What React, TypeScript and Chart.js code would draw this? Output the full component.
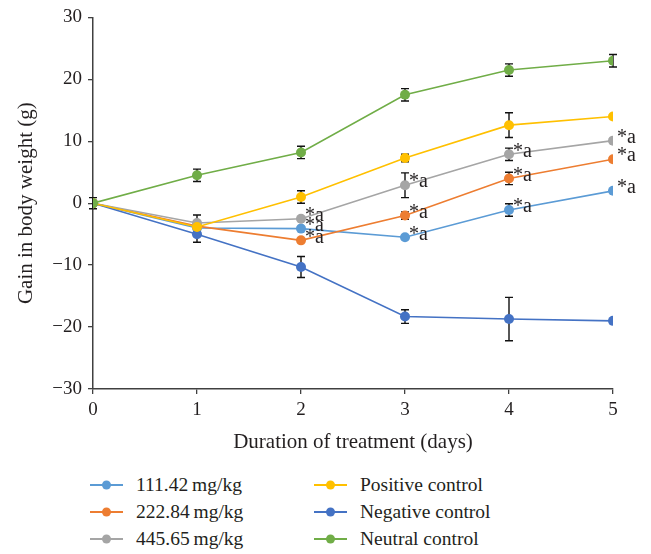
import React, { useEffect, useRef } from 'react';
import { Chart, registerables } from 'chart.js';

Chart.register(...registerables);

// ---- data ----
const days = [0, 1, 2, 3, 4, 5];
const xTickValues = [0, 1, 2, 3, 4, 5];
const yTickValues = [-30, -20, -10, 0, 10, 20, 30];

const seriesNames = [
  '111.42\u2009mg/kg',
  '222.84\u2009mg/kg',
  '445.65\u2009mg/kg',
  'Positive control',
  'Negative control',
  'Neutral control',
];
const seriesColors = ['#5B9BD5', '#ED7D31', '#A5A5A5', '#FFC000', '#4472C4', '#70AD47'];

const dose111 = [0, -4.0, -4.1, -5.5, -1.1, 2.0];
const dose222 = [0, -3.7, -6.0, -2.0, 4.0, 7.1];
const dose445 = [0, -3.2, -2.5, 2.9, 7.9, 10.1];
const positiveCtrl = [0, -3.85, 1.0, 7.3, 12.6, 14.0];
const negativeCtrl = [0, -5.0, -10.3, -18.3, -18.7, -19.0];
const neutralCtrl = [0, 4.5, 8.2, 17.5, 21.5, 23.0];

const err111 = [0, 0, 0, 0, 1.0, 0];
const err222 = [0, 0, 0, 0.6, 1.0, 0];
const err445 = [0, 1.3, 0, 2.0, 1.0, 0];
const errPositive = [0, 0, 1.0, 0.6, 2.0, 0];
const errNegative = [0, 1.3, 1.7, 1.1, 3.5, 0];
const errNeutral = [0.9, 1.0, 1.0, 1.0, 1.0, 1.0];

const mark111 = ['', '', '*a', '*a', '*a', '*a'];
const mark222 = ['', '', '*a', '*a', '*a', '*a'];
const mark445 = ['', '', '*a', '*a', '*a', '*a'];
const markNone = ['', '', '', '', '', ''];

const seriesValues = [dose111, dose222, dose445, positiveCtrl, negativeCtrl, neutralCtrl];
const seriesErrors = [err111, err222, err445, errPositive, errNegative, errNeutral];
const seriesMarks = [mark111, mark222, mark445, markNone, markNone, markNone];
const drawOrder = [5, 4, 3, 1, 2, 0];

const FONT = "'Liberation Serif', 'DejaVu Serif', serif";
const TEXT = '#231F20';
const AXIS = '#404040';

const errorBarPlugin = {
  id: 'errorBars',
  beforeDatasetsDraw(chart: any) {
    const { ctx, scales } = chart;
    ctx.save();
    ctx.strokeStyle = '#111111';
    ctx.lineWidth = 1.4;
    chart.data.datasets.forEach((ds: any, i: number) => {
      const errs = seriesErrors[i];
      ds.data.forEach((pt: any, j: number) => {
        const e = errs[j];
        if (!e) return;
        const x = scales.x.getPixelForValue(pt.x);
        const y1 = scales.y.getPixelForValue(pt.y + e);
        const y2 = scales.y.getPixelForValue(pt.y - e);
        ctx.beginPath();
        ctx.moveTo(x, y1);
        ctx.lineTo(x, y2);
        ctx.moveTo(x - 4, y1);
        ctx.lineTo(x + 4, y1);
        ctx.moveTo(x - 4, y2);
        ctx.lineTo(x + 4, y2);
        ctx.stroke();
      });
    });
    ctx.restore();
  },
  afterDatasetsDraw(chart: any) {
    const { ctx, scales } = chart;
    ctx.save();
    ctx.fillStyle = TEXT;
    ctx.font = `20px ${FONT}`;
    ctx.textAlign = 'left';
    ctx.textBaseline = 'middle';
    chart.data.datasets.forEach((ds: any, i: number) => {
      const marks = seriesMarks[i];
      ds.data.forEach((pt: any, j: number) => {
        const m = marks[j];
        if (!m) return;
        const x = scales.x.getPixelForValue(pt.x);
        const y = scales.y.getPixelForValue(pt.y);
        ctx.fillText(m, x + 4, y - 3);
      });
    });
    ctx.restore();
  },
};

export default function App() {
  const canvasRef = useRef<HTMLCanvasElement | null>(null);

  useEffect(() => {
    if (!canvasRef.current) return;
    const datasets = seriesValues.map((vals, i) => ({
      label: seriesNames[i],
      data: vals.map((v, j) => ({ x: days[j], y: v })),
      borderColor: seriesColors[i],
      backgroundColor: seriesColors[i],
      pointBackgroundColor: seriesColors[i],
      pointBorderColor: seriesColors[i],
      pointRadius: 5,
      pointBorderWidth: 0,
      borderWidth: 1.6,
      tension: 0,
      order: drawOrder[i],
    }));
    const chart = new Chart(canvasRef.current, {
      type: 'line',
      data: { datasets },
      plugins: [errorBarPlugin],
      options: {
        animation: false,
        responsive: false,
        maintainAspectRatio: false,
        layout: { padding: { left: 0, right: 38, top: 15, bottom: 0 } },
        plugins: { legend: { display: false }, tooltip: { enabled: false } },
        scales: {
          x: {
            type: 'linear',
            min: 0,
            max: 5,
            afterBuildTicks: (scale: any) => {
              scale.ticks = xTickValues.map((v) => ({ value: v }));
            },
            afterFit: (scale: any) => {
              scale.height = 71;
            },
            grid: { drawOnChartArea: false, drawTicks: true, tickLength: 5, color: AXIS, lineWidth: 1.3 },
            border: { display: true, color: AXIS, width: 1.5 },
            ticks: { color: TEXT, font: { family: FONT, size: 19 }, padding: 5 },
            title: {
              display: true,
              text: 'Duration of treatment (days)',
              color: TEXT,
              font: { family: FONT, size: 21 },
              padding: { top: 0, bottom: 5 },
            },
          },
          y: {
            type: 'linear',
            min: -30,
            max: 30,
            afterBuildTicks: (scale: any) => {
              scale.ticks = yTickValues.map((v) => ({ value: v }));
            },
            afterFit: (scale: any) => {
              scale.width = 93;
            },
            grid: { drawOnChartArea: false, drawTicks: true, tickLength: 5, color: AXIS, lineWidth: 1.3 },
            border: { display: true, color: AXIS, width: 1.5 },
            ticks: {
              color: TEXT,
              font: { family: FONT, size: 19 },
              padding: 6,
              callback: (v: any) => String(v).replace('-', '\u2212'),
            },
            title: {
              display: true,
              text: 'Gain in body weight (g)',
              color: TEXT,
              font: { family: FONT, size: 21 },
              padding: { top: 14, bottom: 0 },
            },
          },
        },
      },
    });
    return () => chart.destroy();
  }, []);

  const colLeft = [90, 314];
  const rowTop = [485, 512, 539];

  return (
    <div style={{ position: 'fixed', left: 0, top: 0, width: 651, height: 554, background: '#fff' }}>
      <canvas ref={canvasRef} width={651} height={460} style={{ position: 'absolute', left: 0, top: 0, width: 651, height: 460 }} />
      {seriesNames.map((name, i) => {
        const col = Math.floor(i / 3);
        const row = i % 3;
        return (
          <div
            key={name}
            style={{
              position: 'absolute',
              left: colLeft[col],
              top: rowTop[row] - 12,
              height: 24,
              display: 'flex',
              alignItems: 'center',
              fontFamily: FONT,
              fontSize: 19.5,
              color: TEXT,
              whiteSpace: 'nowrap',
            }}
          >
            <svg width={33} height={12} style={{ marginRight: 13 }}>
              <line x1={0} y1={6} x2={33} y2={6} stroke={seriesColors[i]} strokeWidth={2} />
              <circle cx={16.5} cy={6} r={4.5} fill={seriesColors[i]} />
            </svg>
            <span>{name}</span>
          </div>
        );
      })}
    </div>
  );
}
